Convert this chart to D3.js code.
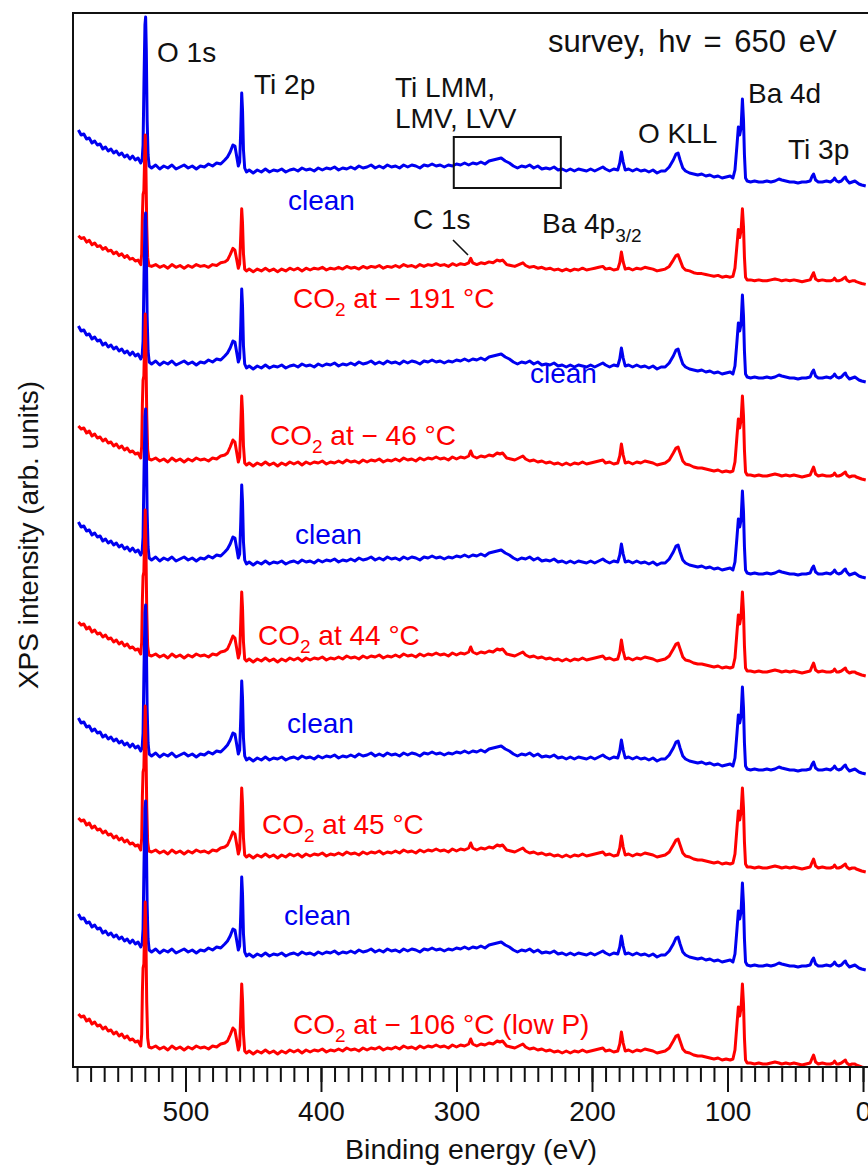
<!DOCTYPE html>
<html>
<head>
<meta charset="utf-8">
<script src="https://cdn.jsdelivr.net/npm/d3@7"></script>
<style>
  html, body { margin: 0; padding: 0; background: #fff; }
  text { font-family: "Liberation Sans", Arial, Helvetica, sans-serif; }
</style>
</head>
<body>
<svg id="chart" width="868" height="1173"></svg>
<script>
// ---- data -------------------------------------------------------------
const energyTicks = [500, 400, 300, 200, 100, 0];

// survey spectrum of the clean surface: [binding energy (eV), intensity (arb. units)]
const cleanSpectrum = [
  [579,60],[577,55],[575,56],[573,51],[571,52],[569,47],[567,49],[565,45],[563,46],[561,41],[559,43],[557,39],
  [555,41],[553,37],[551,39],[549,35],[547,37],[545,33],[543,35],[541,31],[539,34],[537,30],[535,32],[533,27],
  [532,30],[531.3,45],[530.6,110],[529.9,165],[529.4,173],[528.9,140],[528.3,70],[527.6,35],[526.8,24],
  [525,22],[522,25],[519,21],[516,24],[513,22],[510,25],[507,21],[504,23],[501,25],[498,22],[495,24],[492,21],
  [489,24],[486,23],[483,26],[480,24],[477,27],[474,26],[471,30],[469,33],
  [467,38],[465,45],[463.5,44],[462,32],[461,24],
  [460,28],[459.2,60],[458.5,97],[457.9,80],[457.2,40],[456.3,22],[455,18],
  [453,20],[450,17],[447,20],[444,18],[441,21],[438,18],[435,20],[432,19],[429,21],[426,18],[423,20],[420,21],
  [417,19],[414,22],[411,20],[408,21],[405,19],[402,22],[399,20],[396,22],[393,21],[390,23],[387,20],[384,22],
  [381,21],[378,23],[375,21],[372,24],[369,22],[366,23],[363,25],[360,22],[357,24],[354,22],[351,25],[348,23],
  [345,24],[342,22],[339,25],[336,23],[333,25],[330,24],[327,22],[324,25],[321,24],[318,26],[315,24],[312,25],
  [309,23],[306,25],[303,24],
  [300,26],[297,25],[294,27],[291,25],[288,27],[285,26],[282,28],[279,26],[276,29],[273,30],[270,31],[267,32],
  [264,29],[261,27],[258,24],[255,22],[252,24],[249,23],[246,25],[243,22],[240,24],[237,21],[234,22],[231,21],
  [228,23],[225,20],[222,21],
  [219,19],[216,21],[213,19],[210,21],[207,20],[204,19],[201,21],[198,19],[195,21],[192,23],[190,21],[187,19],
  [184,21],[181,20],[179.5,27],[178.3,38],[177,28],[175.5,20],[173,21],[170,19],[167,21],[164,19],[161,20],
  [158,18],[155,20],[152,17],[149,19],[146,19],[143,23],[140,30],[138,36],[136.5,37],[135,30],[133,22],[131,19],
  [128,17],[125,16],[122,15],[119,16],[116,14],[113,15],[110,13],[107,14],[104,12],[101,13],[98,14],[96,12],
  [94.5,20],[93,45],[92,63],[91,55],[90,62],[89,91],[88.2,70],[87.5,35],[86.7,12],[85.5,9],
  [83,8],[80,9],[77,8],[74,8],[71,9],[68,8],[65,9],[62,11],[60,10],[57,9],[54,8],[51,8],[48,7],[45,8],[42,8],
  [39,9],[37.5,14],[36.5,16],[35,10],[33,8],[30,8],[27,9],[24,8],[22,10],[21,12],[19.5,9],[18,8],[16,9],
  [14,12],[13,13],[12,10],[10,7],[8,8],[6,9],[5,8],[3,6],[1,5],[-2,4]
];

// survey spectrum after CO2 exposure: [binding energy (eV), intensity (arb. units)]
const co2Spectrum = [
  [579,58],[577,55],[575,56],[573,51],[571,53],[569,48],[567,50],[565,46],[563,47],[561,43],[559,45],[557,41],
  [555,42],[553,38],[551,40],[549,36],[547,38],[545,34],[543,36],[541,32],[539,33],[537,30],[535,31],[533,26],
  [532.3,38],[531.8,80],[531.3,104],[530.7,108],[530.2,140],[529.7,170],[529.2,135],[528.6,70],[527.9,34],[527,25],
  [525,24],[522,26],[519,23],[516,25],[513,22],[510,26],[507,23],[504,25],[501,22],[498,25],[495,23],[492,26],
  [489,24],[486,25],[483,23],[480,26],[477,25],[474,28],[471,29],[469,31],
  [467,37],[465,44],[463.5,42],[462,30],[461,22],
  [460,27],[459.2,58],[458.5,88],[457.9,72],[457.2,38],[456.3,21],[455,19],
  [453,21],[450,18],[447,21],[444,19],[441,22],[438,19],[435,21],[432,18],[429,21],[426,19],[423,22],[420,20],
  [417,22],[414,19],[411,22],[408,20],[405,22],[402,21],[399,23],[396,20],[393,22],[390,21],[387,23],[384,21],
  [381,24],[378,22],[375,23],[372,21],[369,24],[366,22],[363,24],[360,23],[357,25],[354,22],[351,24],[348,23],
  [345,25],[342,23],[339,26],[336,24],[333,25],[330,23],[327,26],[324,24],[321,26],[318,25],[315,27],[312,25],
  [309,26],[306,24],[303,27],
  [300,25],[297,27],[294,26],[291,28],[289.5,33],[288,28],[285,26],[282,28],[279,27],[276,29],[273,28],[270,31],
  [268,30],[266,31],[263,26],[260,25],[257,24],[254,26],[251,28],[249,25],[246,23],[243,24],[240,22],[237,23],
  [234,21],[231,22],[228,20],[225,21],[222,19],
  [219,21],[216,19],[213,21],[210,20],[207,22],[204,20],[201,21],[198,22],[195,23],[192,24],[190,21],[187,22],
  [184,20],[181,21],[179.5,28],[178.3,40],[177,29],[175.5,21],[173,22],[170,20],[167,22],[164,21],[161,23],
  [158,22],[155,21],[152,19],[149,20],[146,21],[143,24],[140,31],[138,36],[136.5,37],[135,31],[133,23],[131,20],
  [128,19],[125,17],[122,16],[119,16],[116,15],[113,14],[110,13],[107,14],[104,12],[101,13],[98,12],[96,13],
  [94.5,22],[93,48],[92,65],[91,56],[90,64],[89,88],[88.2,68],[87.5,34],[86.7,12],[85.5,9],
  [83,9],[80,8],[77,9],[74,8],[71,8],[68,9],[65,10],[62,9],[60,8],[57,9],[54,8],[51,9],[48,8],[45,7],[42,8],
  [39,9],[37.5,14],[36.5,17],[35,10],[33,8],[30,9],[27,8],[24,8],[22,9],[21,11],[19.5,8],[18,8],[16,9],
  [14,11],[13,12],[12,9],[10,7],[8,8],[6,8],[5,7],[3,6],[1,5],[-2,4]
];

// stacked traces, top to bottom
const traceKinds   = ["clean", "co2", "clean", "co2", "clean", "co2", "clean", "co2", "clean", "co2"];
const traceLabels  = ["clean", "CO2 at \u2212 191 \u00B0C", "clean", "CO2 at \u2212 46 \u00B0C", "clean",
                      "CO2 at 44 \u00B0C", "clean", "CO2 at 45 \u00B0C", "clean", "CO2 at \u2212 106 \u00B0C (low P)"];
const traceOffsets = [877, 779, 681, 583, 485, 387, 289, 191, 93, -5];
const traceGains   = [1, 0.9, 1, 1, 1, 1, 1, 1, 1, 1];

// peak assignments
const peakLabels = ["O 1s", "Ti 2p", "Ti LMM,", "LMV, LVV", "O KLL", "Ba 4d", "Ti 3p", "C 1s"];

// Auger window marked on the top spectrum: energies (eV) and intensity span
const augerWindow = { eHigh: 302, eLow: 223, iLow: 2, iHigh: 53 };

// ---- layout -----------------------------------------------------------
const W = 868, H = 1173;
const plot = { left: 73, right: 866, top: 13, bottom: 1067 };
const BLUE = "#0000f0", RED = "#ff0000";

const svg = d3.select("#chart");

const x = d3.scaleLinear().domain([583, -2.2]).range([plot.left, plot.right]);
const y = d3.scaleLinear().domain([0, 1054]).range([plot.bottom, plot.top]);

svg.append("defs").append("clipPath").attr("id", "plotClip")
  .append("rect").attr("x", plot.left + 1).attr("y", plot.top + 1)
  .attr("width", W - plot.left).attr("height", plot.bottom - plot.top - 2);

// spectra
const gSpec = svg.append("g").attr("clip-path", "url(#plotClip)");
traceKinds.forEach((kind, i) => {
  const spec = kind === "clean" ? cleanSpectrum : co2Spectrum;
  const line = d3.line()
    .x(d => x(d[0]))
    .y(d => y(traceOffsets[i] + traceGains[i] * d[1]));
  gSpec.append("path")
    .attr("d", line(spec))
    .attr("fill", "none")
    .attr("stroke", kind === "clean" ? BLUE : RED)
    .attr("stroke-width", 3)
    .attr("stroke-linejoin", "round");
});

// frame (left, top, bottom; right side runs off the edge)
svg.append("path")
  .attr("d", `M${W + 2},${plot.top} H${plot.left} V${plot.bottom} H${W + 2}`)
  .attr("fill", "none").attr("stroke", "#111").attr("stroke-width", 2);

// x axis: minor ticks every 10 eV, labelled majors every 100 eV
const minorAxis = d3.axisBottom(x).tickValues(d3.range(0, 581, 10)).tickSize(15).tickFormat("");
const gMinor = svg.append("g").attr("transform", `translate(0,${plot.bottom})`).call(minorAxis);
gMinor.select(".domain").remove();
gMinor.selectAll(".tick line").attr("stroke", "#111").attr("stroke-width", 2);

const majorAxis = d3.axisBottom(x).tickValues(energyTicks).tickSize(25).tickPadding(9).tickFormat(d3.format("d"));
const gMajor = svg.append("g").attr("transform", `translate(0,${plot.bottom})`).call(majorAxis);
gMajor.select(".domain").remove();
gMajor.selectAll(".tick line").attr("stroke", "#111").attr("stroke-width", 2);
gMajor.selectAll(".tick text")
  .attr("font-family", "Liberation Sans, Arial, sans-serif")
  .attr("font-size", 28).attr("fill", "#111");

// axis titles
svg.append("text").attr("x", 471).attr("y", 1159).attr("text-anchor", "middle")
  .attr("font-size", 28.5).attr("fill", "#111").text("Binding energy (eV)");
svg.append("text").attr("transform", "translate(38,535) rotate(-90)").attr("text-anchor", "middle")
  .attr("font-size", 28).attr("fill", "#111").text("XPS intensity (arb. units)");

// helper for labels with a subscripted "2"
function subText(g, str, px, py, color) {
  const t = g.append("text").attr("x", px).attr("y", py).attr("font-size", 28).attr("fill", color);
  const parts = str.split("CO2");
  if (parts.length === 2) {
    t.append("tspan").text(parts[0] + "CO");
    t.append("tspan").attr("font-size", 19).attr("dy", 8).text("2");
    t.append("tspan").attr("dy", -8).text(parts[1]);
  } else {
    t.text(str);
  }
  return t;
}

// trace labels
const traceLabelPos = [
  [288, 210], [293, 308], [530, 383], [270, 445], [295, 544],
  [258, 645], [287, 733], [262, 834], [284, 925], [293, 1034]
];
const gLab = svg.append("g");
traceLabels.forEach((s, i) => {
  subText(gLab, s, traceLabelPos[i][0], traceLabelPos[i][1], traceKinds[i] === "clean" ? BLUE : RED);
});

// peak labels
const peakPos = [[157, 62], [254, 94], [395, 97], [395, 128], [638, 143], [748, 103], [788, 159], [413, 229]];
peakLabels.forEach((s, i) => {
  gLab.append("text").attr("x", peakPos[i][0]).attr("y", peakPos[i][1])
    .attr("font-size", 28).attr("fill", "#111").text(s);
});

// Ba 4p3/2 with subscript
const ba = gLab.append("text").attr("x", 542).attr("y", 233).attr("font-size", 28).attr("fill", "#111");
ba.append("tspan").text("Ba 4p");
ba.append("tspan").attr("font-size", 19).attr("dy", 9).text("3/2");

// title
gLab.append("text").attr("x", 548).attr("y", 52).attr("font-size", 31).attr("fill", "#111")
  .attr("word-spacing", 4).text("survey, hv = 650 eV");

// C 1s leader line
gLab.append("line").attr("x1", 453).attr("y1", 240).attr("x2", 468).attr("y2", 255)
  .attr("stroke", "#111").attr("stroke-width", 1.6);

// box around the Ti Auger structure on the top trace
svg.append("rect")
  .attr("x", x(augerWindow.eHigh))
  .attr("y", y(traceOffsets[0] + augerWindow.iHigh))
  .attr("width", x(augerWindow.eLow) - x(augerWindow.eHigh))
  .attr("height", y(traceOffsets[0] + augerWindow.iLow) - y(traceOffsets[0] + augerWindow.iHigh))
  .attr("fill", "none").attr("stroke", "#111").attr("stroke-width", 2);
</script>
</body>
</html>
